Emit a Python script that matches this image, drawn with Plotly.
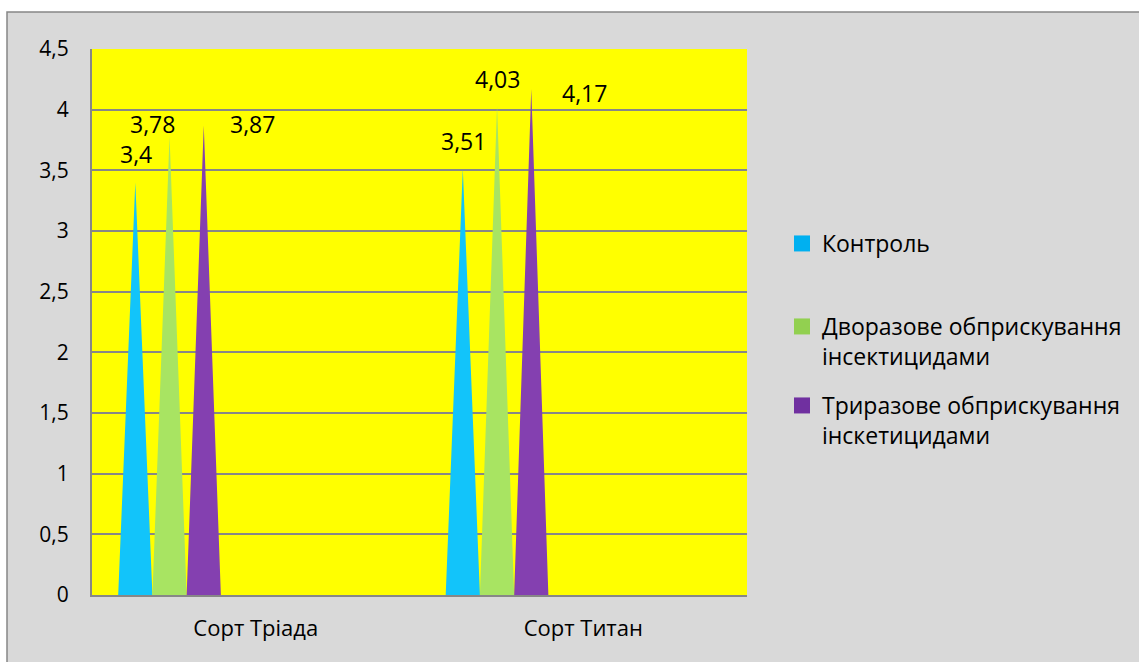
import plotly.graph_objects as go

# Yield by variety and treatment
categories = ["Сорт Тріада", "Сорт Титан"]
series_names = [
    "Контроль",
    "Дворазове обприскування<br>інсектицидами",
    "Триразове обприскування<br>інскетицидами",
]
control = [3.4, 3.51]
twice = [3.78, 4.03]
thrice = [3.87, 4.17]
values = [control, twice, thrice]

# Styling
fill_colors = ["#12C4FA", "#A8E462", "#8440B0"]
legend_colors = ["#00B0F0", "#92D050", "#7030A0"]
cone_start = 0.08      # offset of first cone inside its category slot
cone_width = 0.1045    # base width of a cone in category units
# pixel offsets of each value label relative to the cone tip, per series / category
label_dx = [[1, 1], [-17, 0], [49, 53]]
label_dy = [[28, 28], [12, 27], [1, -4]]

FONT = "Open Sans"
W, H = 1139, 662
L, R, T, B = 92, 1139 - 747, 49, 662 - 595

fig = go.Figure()
annotations = []

for k, (name, vals) in enumerate(zip(series_names, values)):
    xs, ys = [], []
    for i, v in enumerate(vals):
        left = i + cone_start + k * cone_width
        tip = left + cone_width / 2
        xs += [left, tip, left + cone_width, left, None]
        ys += [0, v, 0, 0, None]
        annotations.append(dict(
            x=tip, y=v, xref="x", yref="y",
            text=f"{v:g}".replace(".", ","),
            showarrow=False, xshift=label_dx[k][i], yshift=label_dy[k][i],
            font=dict(family=FONT, size=23, color="#000000"),
        ))
    fig.add_trace(go.Scatter(
        x=xs, y=ys, mode="lines", fill="toself",
        fillcolor=fill_colors[k], line=dict(width=0, color=fill_colors[k]),
        showlegend=False, hoverinfo="skip",
    ))
    legend_id = "legend" if k == 0 else f"legend{k + 1}"
    fig.add_trace(go.Scatter(
        x=[None], y=[None], mode="markers", name=name,
        marker=dict(symbol="square", size=16, color=legend_colors[k]),
        legend=legend_id,
    ))

legend_common = dict(
    xanchor="left", yanchor="top", x=1.0534,
    bgcolor="rgba(0,0,0,0)", borderwidth=0,
    font=dict(family=FONT, size=23, color="#000000"),
    valign="top", itemwidth=30,
)

def paper_y(py):
    return (H - B - py) / (H - B - T)

fig.update_layout(
    width=W, height=H,
    margin=dict(l=L, r=R, t=T, b=B, pad=0),
    paper_bgcolor="#FFFFFF",
    plot_bgcolor="rgba(0,0,0,0)",
    separators=", ",
    font=dict(family=FONT, size=21, color="#000000"),
    xaxis=dict(
        range=[0, 2], tickvals=[0.5, 1.5], ticktext=categories,
        showgrid=False, zeroline=False, showline=True,
        linecolor="#878787", linewidth=2, ticks="",
        tickfont=dict(family=FONT, size=22), ticklabelstandoff=13,
        fixedrange=True,
    ),
    yaxis=dict(
        range=[0, 4.5], dtick=0.5, tick0=0,
        showgrid=True, gridcolor="#878787", gridwidth=2,
        zeroline=False, showline=True, linecolor="#878787", linewidth=2,
        ticks="", tickfont=dict(family=FONT, size=21), ticklabelstandoff=17,
        fixedrange=True,
    ),
    legend=dict(legend_common, y=paper_y(222)),
    legend2=dict(legend_common, y=paper_y(305)),
    legend3=dict(legend_common, y=paper_y(384)),
    annotations=annotations,
    shapes=[
        # chart area frame
        dict(
            type="rect", xref="paper", yref="paper", layer="below",
            x0=(7 - L) / (W - L - R), x1=1.7,
            y0=-0.3, y1=paper_y(12),
            fillcolor="#D9D9D9", line=dict(color="#868686", width=1.5),
        ),
        # plot area fill
        dict(
            type="rect", xref="paper", yref="paper", layer="below",
            x0=0, x1=1, y0=0, y1=1,
            fillcolor="#FFFF00", line=dict(width=0),
        ),
    ],
)

fig.write_html("out.html")
